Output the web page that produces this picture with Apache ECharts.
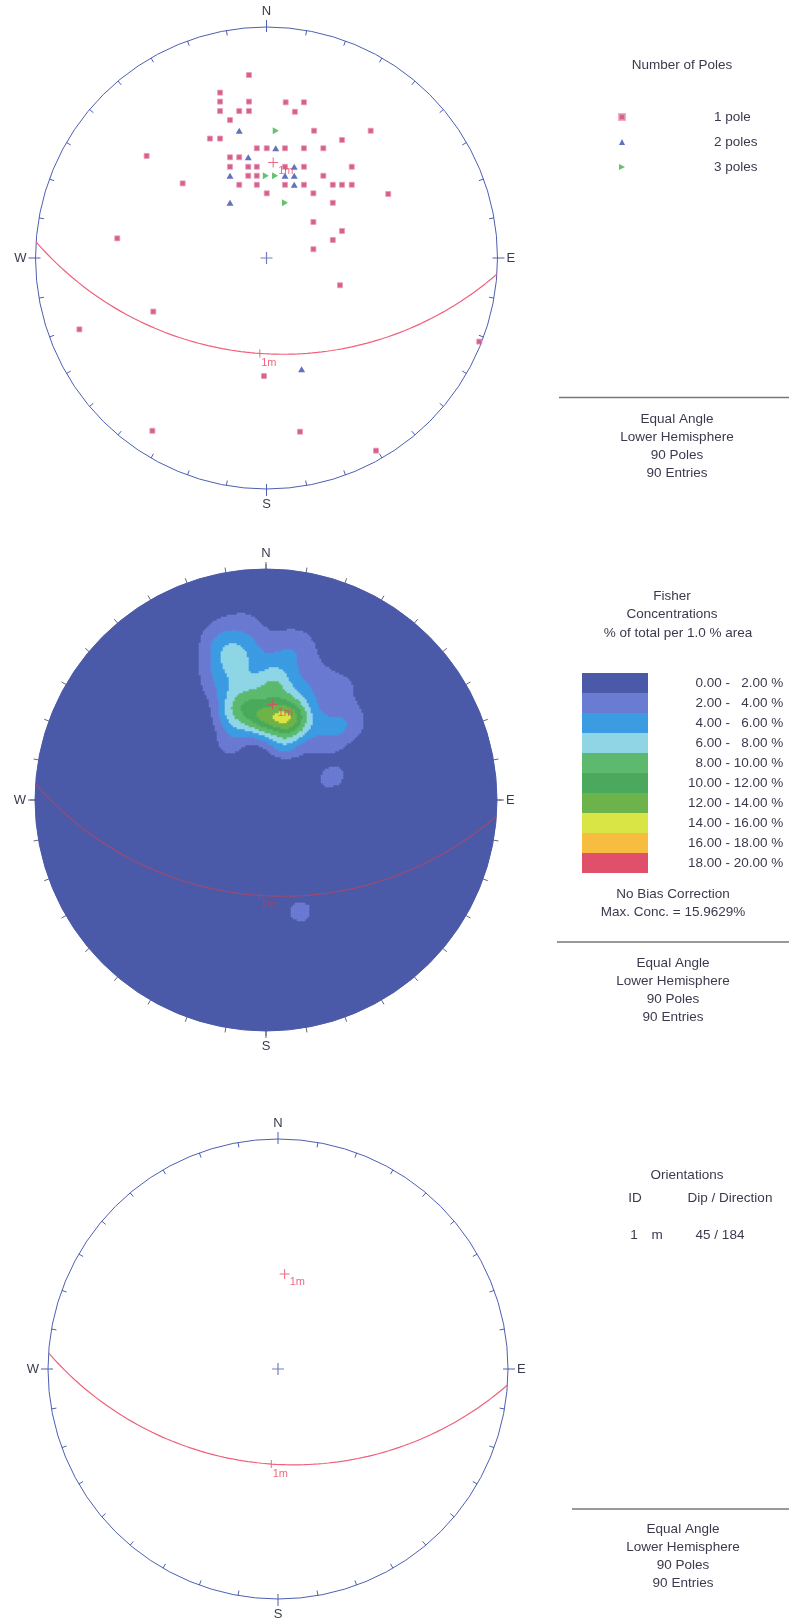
<!DOCTYPE html>
<html>
<head>
<meta charset="utf-8">
<script src="https://cdn.jsdelivr.net/npm/echarts@6/dist/echarts.min.js"></script>
<style>
html, body { margin: 0; padding: 0; background: #fff; }
#main { width: 789px; height: 1619px; }
</style>
</head>
<body>
<div id="main"></div>
<script>
var poles1 = [[-0.076,0.792],[-0.201,0.716],[-0.201,0.677],[-0.076,0.677],[0.083,0.674],[0.162,0.674],
  [-0.201,0.636],[-0.118,0.636],[-0.076,0.636],[0.123,0.633],[-0.158,0.597],[0.206,0.551],[0.451,0.551],
  [-0.245,0.517],[-0.201,0.517],[0.327,0.511],[-0.042,0.475],[0.001,0.475],[0.080,0.475],[0.162,0.475],
  [0.246,0.475],[-0.519,0.442],[-0.158,0.436],[-0.118,0.436],[-0.158,0.395],[-0.079,0.395],[-0.042,0.395],
  [0.080,0.395],[0.162,0.395],[0.369,0.395],[-0.079,0.356],[-0.042,0.356],[0.246,0.356],[-0.118,0.317],
  [-0.042,0.317],[0.080,0.317],[0.162,0.317],[0.287,0.317],[0.327,0.317],[0.369,0.317],[0.001,0.280],
  [0.203,0.280],[0.527,0.277],[0.287,0.239],[0.203,0.156],[0.327,0.117],[-0.646,0.085],[0.287,0.078],
  [0.203,0.038],[-0.363,0.323],[0.318,-0.118],[-0.490,-0.232],[-0.810,-0.309],[-0.011,-0.511],
  [-0.494,-0.748],[0.145,-0.752],[0.474,-0.834],[0.921,-0.362]];
var poles2 = [[-0.118,0.551],[0.040,0.475],[-0.079,0.436],[0.120,0.395],[-0.158,0.356],[0.080,0.356],
  [0.120,0.356],[0.120,0.317],[-0.158,0.239],[0.152,-0.482]];
var poles3 = [[0.040,0.551],[-0.003,0.356],[0.037,0.356],[0.080,0.239]];

// planes (orientations table)
var planeId = ['1'];
var planeSet = ['m'];
var planeDip = [45];
var planeDipDir = [184];

// Fisher concentration bands
var concBreaks = [0, 2, 4, 6, 8, 10, 12, 14, 16, 18, 20];
var concColors = ['#4b5aa8', '#6a7bd2', '#3c9ce2', '#8fd5e6', '#5cb96e', '#4aa95c', '#6db34b', '#d9e445', '#f6bd40', '#e0506a'];
var maxConc = '15.9629';

var cardinals = { 0: 'N', 90: 'E', 180: 'S', 270: 'W' };

var TXT = '#3a3a4e';
var FONT = '"Liberation Sans", Arial, sans-serif';
var FS = 13.5;
var BLUE = '#4d5fb2';
var RED = '#e8435f';

var NETS = [
  { c: [266.5, 258], r: 231 },
  { c: [266, 800], r: 231 },
  { c: [278, 1369], r: 230 }
];

var totalPoles = poles1.length + 2 * poles2.length + 3 * poles3.length;

// lower hemisphere unit vector from equal angle position
function toVec(x, y) {
  var r2 = x * x + y * y;
  return [2 * x / (1 + r2), 2 * y / (1 + r2), (1 - r2) / (1 + r2)];
}
function project(v) {
  return [v[0] / (1 + v[2]), v[1] / (1 + v[2])];
}
function lineVec(trend, plunge) {
  var t = trend * Math.PI / 180, p = plunge * Math.PI / 180;
  return [Math.cos(p) * Math.sin(t), Math.cos(p) * Math.cos(t), Math.sin(p)];
}
function greatCircle(dip, dipDir) {
  var a = dipDir * Math.PI / 180, d = dip * Math.PI / 180;
  var s = [Math.sin(a - Math.PI / 2), Math.cos(a - Math.PI / 2), 0];
  var dv = [Math.cos(d) * Math.sin(a), Math.cos(d) * Math.cos(a), Math.sin(d)];
  var pts = [];
  for (var t = 0; t <= 180; t += 2) {
    var c = Math.cos(t * Math.PI / 180), sn = Math.sin(t * Math.PI / 180);
    pts.push(project([c * s[0] + sn * dv[0], c * s[1] + sn * dv[1], sn * dv[2]]));
  }
  return pts;
}

// fisher density on a grid of cells
var K = 110, NCELL = 231;
var weighted = [];
[[poles1, 1], [poles2, 2], [poles3, 3]].forEach(function (g) {
  g[0].forEach(function (p) { weighted.push({ v: toVec(p[0], p[1]), w: g[1] }); });
});
var cellIdx = [];
for (var i = 0; i < NCELL; i++) cellIdx.push(i);
var heat = [];
for (var i = 0; i < NCELL; i++) {
  for (var j = 0; j < NCELL; j++) {
    var x = -1 + (i + 0.5) * 2 / NCELL, y = -1 + (j + 0.5) * 2 / NCELL;
    if (x * x + y * y > 1) continue;
    var v = toVec(x, y), s = 0;
    for (var k = 0; k < weighted.length; k++) {
      var q = weighted[k].v;
      var dot = Math.abs(v[0] * q[0] + v[1] * q[1] + v[2] * q[2]);
      s += weighted[k].w * Math.exp(K * (dot - 1));
    }
    var val = s * K / totalPoles;
    if (val >= concBreaks[1]) heat.push([i, j, val]);   // lowest band comes from the disc below
  }
}

function pad(n) { return (n < 10 ? '\u2007' : '') + n.toFixed(2); }
var pieces = [];
for (var b = 0; b < concColors.length; b++) {
  var pc = { gte: concBreaks[b], color: concColors[b], label: pad(concBreaks[b]) + ' - ' + pad(concBreaks[b + 1]) + ' %' };
  if (b < concColors.length - 1) pc.lt = concBreaks[b + 1];
  pieces.push(pc);
}

var CROSS = 'path://M4.5,0h1v10h-1zM0,4.5h10v1h-10z';
var TICK = 'path://M0,0h1v10h-1z';
var RTRI = 'path://M0,0L10,5L0,10Z';

// polar frames
var polar = [], angleAxis = [], radiusAxis = [];
NETS.forEach(function (n, k) {
  var filled = k === 1;
  polar.push({ center: n.c, radius: n.r }, { center: n.c, radius: n.r });
  angleAxis.push({
    polarIndex: 2 * k, type: 'value', min: 0, max: 360, interval: 10, startAngle: 90, clockwise: true,
    axisLine: { show: true, lineStyle: { color: filled ? concColors[0] : BLUE, width: 1 } },
    axisTick: { show: true, inside: !filled, length: 5, lineStyle: { color: filled ? '#667' : BLUE } },
    axisLabel: { show: false }, splitLine: { show: false }
  }, {
    polarIndex: 2 * k + 1, type: 'value', min: 0, max: 360, interval: 90, startAngle: 90, clockwise: true,
    axisLine: { show: false },
    axisTick: { show: true, inside: false, length: 7, lineStyle: { color: filled ? '#667' : BLUE } },
    axisLabel: {
      show: true, margin: 9, color: TXT, fontSize: 13, fontFamily: FONT,
      formatter: function (v) { return cardinals[v] || ''; }
    },
    splitLine: { show: false }
  });
  radiusAxis.push({
    polarIndex: 2 * k, min: 0, max: 1, interval: 1,
    axisLine: { show: false }, axisTick: { show: false }, axisLabel: { show: false }, splitLine: { show: false },
    splitArea: { show: filled, areaStyle: { color: [concColors[0]] } }
  }, { polarIndex: 2 * k + 1, show: false, min: 0, max: 1 });
});

// cartesian grids: 0 top, 1 heatmap, 2 middle overlay, 3 bottom
var gridNets = [0, 1, 1, 2];
var grid = gridNets.map(function (k) {
  var n = NETS[k];
  return { left: n.c[0] - n.r, top: n.c[1] - n.r, width: 2 * n.r, height: 2 * n.r };
});
var xAxis = gridNets.map(function (k, g) {
  return g === 1 ? { gridIndex: g, type: 'category', data: cellIdx, show: false }
                 : { gridIndex: g, type: 'value', min: -1, max: 1, show: false };
});
var yAxis = gridNets.map(function (k, g) {
  return g === 1 ? { gridIndex: g, type: 'category', data: cellIdx, show: false }
                 : { gridIndex: g, type: 'value', min: -1, max: 1, show: false };
});

var series = [{
  type: 'heatmap', xAxisIndex: 1, yAxisIndex: 1, data: heat, progressive: 0, silent: true, z: 2
}, {
  name: '1 pole', type: 'scatter', xAxisIndex: 0, yAxisIndex: 0, data: poles1,
  symbol: 'rect', symbolSize: 5, itemStyle: { color: '#c73a72', borderColor: '#ec9ab8', borderWidth: 1 }, z: 5
}, {
  name: '2 poles', type: 'scatter', xAxisIndex: 0, yAxisIndex: 0, data: poles2,
  symbol: 'triangle', symbolSize: [7, 6], itemStyle: { color: '#3b4eae' }, z: 5
}, {
  name: '3 poles', type: 'scatter', xAxisIndex: 0, yAxisIndex: 0, data: poles3,
  symbol: RTRI, symbolSize: [6, 7], itemStyle: { color: '#3db24b' }, z: 5
}];

// planes, poles of planes, centre crosses on each net
[0, 2, 3].forEach(function (g, k) {
  var lineColor = k === 1 ? '#9c4a72' : '#f0607a';
  for (var p = 0; p < planeDip.length; p++) {
    var lab = planeId[p] + planeSet[p];
    series.push({
      type: 'line', xAxisIndex: g, yAxisIndex: g, data: greatCircle(planeDip[p], planeDipDir[p]),
      showSymbol: false, silent: true, lineStyle: { color: lineColor, width: 1.2 }, z: 4
    });
    series.push({
      type: 'scatter', xAxisIndex: g, yAxisIndex: g, silent: true, z: 6,
      data: [project(lineVec(planeDipDir[p], planeDip[p]))],
      symbol: TICK, symbolSize: [1.2, 8], itemStyle: { color: lineColor },
      label: { show: true, formatter: lab, position: 'bottom', distance: 0, offset: [9, 0],
               color: k === 1 ? '#b04060' : RED, fontSize: 11, fontFamily: FONT }
    });
    series.push({
      type: 'scatter', xAxisIndex: g, yAxisIndex: g, silent: true, z: 6,
      data: [project(lineVec(planeDipDir[p] - 180, 90 - planeDip[p]))],
      symbol: CROSS, symbolSize: 10, itemStyle: { color: RED },
      label: { show: true, formatter: lab, position: [10, 8], align: 'left', verticalAlign: 'top',
               color: RED, fontSize: 11, fontFamily: FONT }
    });
  }
  if (k !== 1) {
    series.push({
      type: 'scatter', xAxisIndex: g, yAxisIndex: g, silent: true, z: 6, data: [[0, 0]],
      symbol: CROSS, symbolSize: 12, itemStyle: { color: BLUE }
    });
  }
});

function txt(t, x, y, align) {
  return { type: 'text', x: x, y: y, silent: true,
    style: { text: t, align: align || 'center', verticalAlign: 'middle', fill: TXT, fontSize: FS, fontFamily: FONT } };
}
function rule(x1, x2, y) {
  return { type: 'line', silent: true, shape: { x1: x1, y1: y, x2: x2, y2: y }, style: { stroke: '#777', lineWidth: 1.5 } };
}
var info = ['Equal Angle', 'Lower Hemisphere', totalPoles + ' Poles', totalPoles + ' Entries'];
var gfx = [txt('Number of Poles', 682, 65), rule(559, 789, 397.5)];
info.forEach(function (t, i) { gfx.push(txt(t, 677, 419 + i * 18)); });
gfx.push(txt('Fisher', 672, 596), txt('Concentrations', 672, 614), txt('% of total per 1.0 % area', 678, 633));
gfx.push(txt('No Bias Correction', 673, 894), txt('Max. Conc. = ' + maxConc + '%', 673, 912), rule(557, 789, 942));
info.forEach(function (t, i) { gfx.push(txt(t, 673, 963 + i * 18)); });
gfx.push(txt('Orientations', 687, 1175), txt('ID', 635, 1198), txt('Dip / Direction', 730, 1198));
for (var p = 0; p < planeDip.length; p++) {
  gfx.push(txt(planeId[p], 634, 1235 + p * 20), txt(planeSet[p], 657, 1235 + p * 20),
           txt(planeDip[p] + ' / ' + planeDipDir[p], 720, 1235 + p * 20));
}
gfx.push(rule(572, 789, 1509));
info.forEach(function (t, i) { gfx.push(txt(t, 683, 1529 + i * 18)); });

var option = {
  animation: false,
  backgroundColor: '#fff',
  polar: polar, angleAxis: angleAxis, radiusAxis: radiusAxis,
  grid: grid, xAxis: xAxis, yAxis: yAxis,
  legend: {
    left: 613, top: 105, orient: 'vertical', itemWidth: 6, itemHeight: 6, itemGap: 11, selectedMode: false,
    data: [{ name: '1 pole', icon: 'rect' }, { name: '2 poles', icon: 'triangle' }, { name: '3 poles', icon: RTRI }],
    textStyle: { fontSize: FS, color: TXT, fontFamily: FONT, lineHeight: 14, padding: [0, 0, 0, 84] }
  },
  visualMap: {
    type: 'piecewise', seriesIndex: 0, dimension: 2, pieces: pieces, inverse: true, align: 'left',
    left: 567, top: 658, itemWidth: 66, itemHeight: 20, itemGap: 0, itemSymbol: 'rect',
    textGap: 40, selectedMode: false, hoverLink: false,
    textStyle: { fontSize: FS, color: TXT, fontFamily: FONT }
  },
  graphic: { elements: gfx },
  series: series
};

var chart = echarts.init(document.getElementById('main'));
chart.setOption(option);
</script>
</body>
</html>
